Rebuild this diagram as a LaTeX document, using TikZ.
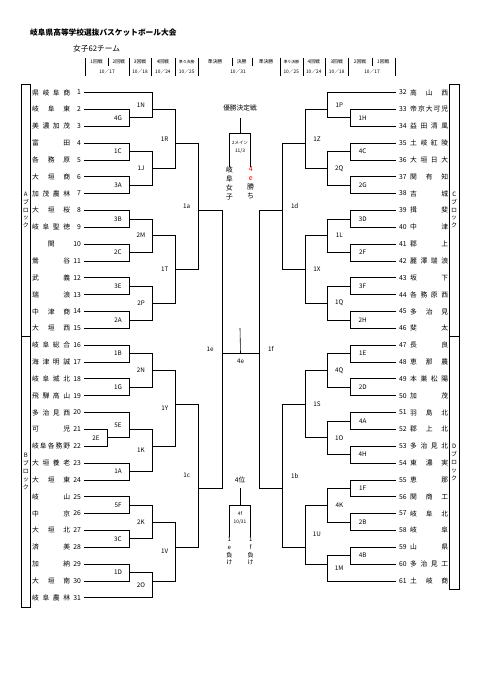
\documentclass[tikz,border=0pt]{standalone}
\usepackage{fontspec}
\setmainfont{Noto Sans CJK JP}
\usetikzlibrary{positioning, calc}

% row r of the sheet -> y in px
\newcommand\R[1]{92.5+8.42*(#1)}
% school name spread over the cell
\def\spreadloop#1{\ifx#1\relax\else#1\expandafter\spreadnext\fi}
\def\spreadnext#1{\ifx#1\relax\else\hfill#1\expandafter\spreadnext\fi}
\newcommand\spread[1]{\makebox[38pt][s]{\expandafter\spreadloop#1\relax}}

\tikzset{
  bline/.style={line width=0.6pt},
  mlabel/.style={inner sep=0pt, font=\fontsize{6.3}{7}\selectfont},
  tnum/.style={inner sep=0pt, font=\fontsize{6.8}{7}\selectfont},
  tname/.style={inner sep=0pt, anchor=west, font=\fontsize{6.8}{7}\selectfont},
  hdr/.style={inner sep=0pt, font=\fontsize{4.8}{5}\selectfont},
  blockbox/.style={draw, line width=0.6pt, minimum width=9.7pt, inner sep=0pt,
                   align=center, font=\fontsize{6}{7.8}\selectfont},
  vtext/.style={inner sep=0pt, align=center, anchor=north},
}

% game: name, x, upper, lower, row out, label shift
\newcommand\game[6]{%
  \coordinate (m#1) at (#2,{\R{#5}});
  \draw[bline] (#3) -- (#3 -| m#1) -- (#4 -| m#1) -- (#4);
  \path (#3 -| m#1) -- (#4 -| m#1) node[midway, xshift=#6pt, mlabel] (l#1) {#1};
}

\begin{document}
\begin{tikzpicture}[x=1pt, y=-1pt]
  \useasboundingbox (0,0) rectangle (481,680);

  % heading
  \node[anchor=west, inner sep=0pt, font=\bfseries\fontsize{7.7}{8}\selectfont] (title) at (30,33)
    {岐阜県高等学校選抜バスケットボール大会};
  \node[anchor=west, inner sep=0pt, font=\fontsize{7.7}{8}\selectfont] (subtitle) at (73,48.3)
    {女子62チーム};

  \foreach \x in {84.7,129.3,150.7,175,198.3,280,302.7,325,348.3,395}
    \draw[line width=0.4pt] (\x,58) -- (\x,76);
  \foreach \x in {108.3,231.7,251.7,371.7}
    \draw[line width=0.4pt] (\x,58) -- (\x,66);
  \foreach \x/\t [count=\k] in {96.5/1回戦, 118.8/2回戦, 140/3回戦, 162.9/4回戦, 215/準決勝,
      241.7/決勝, 266/準決勝, 313.8/4回戦, 336.7/3回戦, 360/2回戦, 383.3/1回戦}
    \node[hdr] (rd\k) at (\x,62) {\t};
  \node[hdr, font=\fontsize{3.9}{4}\selectfont] (qfL) at (186.7,62) {準々決勝};
  \node[hdr, font=\fontsize{3.9}{4}\selectfont] (qfR) at (291.3,62) {準々決勝};
  \foreach \x/\t [count=\k] in {107/10／17, 140/10／18, 162.9/10／24, 186.7/10／25, 238/10／31,
      291.3/10／25, 313.8/10／24, 336.7/10／18, 372/10／17}
    \node[hdr] (dt\k) at (\x,71.7) {\t};

  % blocks
  \node[blockbox, minimum height=252pt] (blkA) at (25.8,210) {A\\ブ\\ロ\\ッ\\ク};
  \node[blockbox, minimum height=271pt] (blkB) at (25.8,471.5) {B\\ブ\\ロ\\ッ\\ク};
  \node[blockbox, minimum height=252pt] (blkC) at (454.2,210) {C\\ブ\\ロ\\ッ\\ク};
  \node[blockbox, minimum height=253pt] (blkD) at (454.2,462.5) {D\\ブ\\ロ\\ッ\\ク};

  % left teams
  \foreach \i/\nm in {1/県岐阜商, 2/岐阜東, 3/美濃加茂, 4/富田, 5/各務原, 6/大垣商, 7/加茂農林,
      8/大垣桜, 9/岐阜聖徳, 10/\hfill 関\hfill, 11/鶯谷, 12/武義, 13/瑞浪, 14/中津商, 15/大垣西,
      16/岐阜総合, 17/海津明誠, 18/岐阜城北, 19/飛騨高山, 20/多治見西, 21/可児, 22/岐阜各務野,
      23/大垣養老, 24/大垣東, 25/岐山, 26/中京, 27/大垣北, 28/済美, 29/加納, 30/大垣南, 31/岐阜農林}{
    \node[tnum, anchor=east] (n\i) at (81,{\R{2*(\i-1)}}) {\i};
    \node[tname] (t\i) at (32,{\R{2*(\i-1)}}) {\spread{\nm}};
    \coordinate (e\i) at (84,{\R{2*(\i-1)}});
  }

  % right teams
  \foreach \i/\nm in {32/高山西, 33/帝京大可児, 34/益田清風, 35/土岐紅陵, 36/大垣日大, 37/関有知,
      38/吉城, 39/揖斐, 40/中津, 41/郡上, 42/麗澤瑞浪, 43/坂下, 44/各務原西, 45/多治見, 46/斐太,
      47/長良, 48/恵那農, 49/本巣松陽, 50/加茂, 51/羽島北, 52/郡上北, 53/多治見北, 54/東濃実,
      55/恵那, 56/関商工, 57/岐阜北, 58/岐阜, 59/山県, 60/多治見工, 61/土岐商}{
    \node[tnum, anchor=west] (n\i) at (399,{\R{2*(\i-32)}}) {\i};
    \node[tname] (t\i) at (410,{\R{2*(\i-32)}}) {\spread{\nm}};
    \coordinate (e\i) at (396,{\R{2*(\i-32)}});
  }

  % left games
  \game{4G}{129}{e2}{e3}{3}{-11}
  \game{1C}{129}{e4}{e5}{7}{-11}
  \game{3A}{129}{e6}{e7}{11}{-11}
  \game{3B}{129}{e8}{e9}{15}{-11}
  \game{2C}{129}{e10}{e11}{19}{-11}
  \game{3E}{129}{e12}{e13}{23}{-11}
  \game{2A}{129}{e14}{e15}{27}{-11}
  \game{1B}{129}{e16}{e17}{31}{-11}
  \game{1G}{129}{e18}{e19}{35}{-11}
  \game{2E}{107}{e21}{e22}{41}{-11}
  \game{5E}{129}{e20}{m2E}{40}{-11}
  \game{1A}{129}{e23}{e24}{45}{-11}
  \game{5F}{129}{e25}{e26}{49}{-11}
  \game{3C}{129}{e27}{e28}{53}{-11}
  \game{1D}{129}{e29}{e30}{57}{-11}
  \game{1N}{152}{e1}{m4G}{2}{-11}
  \game{1J}{152}{m1C}{m3A}{9}{-11}
  \game{2M}{152}{m3B}{m2C}{17}{-11}
  \game{2P}{152}{m3E}{m2A}{25}{-11}
  \game{2N}{152}{m1B}{m1G}{33}{-11}
  \game{1K}{152}{m5E}{m1A}{42}{-11}
  \game{2K}{152}{m5F}{m3C}{51}{-11}
  \game{2O}{152}{m1D}{e31}{58}{-11}
  \game{1R}{175.7}{m1N}{m1J}{6}{-11}
  \game{1T}{175.7}{m2M}{m2P}{21}{-11}
  \game{1Y}{175.7}{m2N}{m1K}{37}{-11}
  \game{1V}{175.7}{m2K}{m2O}{54}{-11}
  \game{1a}{198.7}{m1R}{m1T}{14}{-12}
  \game{1c}{198.7}{m1Y}{m1V}{47}{-12}
  \game{1e}{222}{m1a}{m1c}{31}{-12}

  % right games
  \game{1H}{350.7}{e33}{e34}{3}{12}
  \game{4C}{350.7}{e35}{e36}{7}{12}
  \game{2G}{350.7}{e37}{e38}{11}{12}
  \game{3D}{350.7}{e39}{e40}{15}{12}
  \game{2F}{350.7}{e41}{e42}{19}{12}
  \game{3F}{350.7}{e43}{e44}{23}{12}
  \game{2H}{350.7}{e45}{e46}{27}{12}
  \game{1E}{350.7}{e47}{e48}{31}{12}
  \game{2D}{350.7}{e49}{e50}{35}{12}
  \game{4A}{350.7}{e51}{e52}{39}{12}
  \game{4H}{350.7}{e53}{e54}{43}{12}
  \game{1F}{350.7}{e55}{e56}{47}{12}
  \game{2B}{350.7}{e57}{e58}{51}{12}
  \game{4B}{350.7}{e59}{e60}{55}{12}
  \game{1P}{327.3}{e32}{m1H}{2}{12}
  \game{2Q}{327.3}{m4C}{m2G}{9}{12}
  \game{1L}{327.3}{m3D}{m2F}{17}{12}
  \game{1Q}{327.3}{m3F}{m2H}{25}{12}
  \game{4Q}{327.3}{m1E}{m2D}{33}{12}
  \game{1O}{327.3}{m4A}{m4H}{41}{12}
  \game{4K}{327.3}{m1F}{m2B}{49}{12}
  \game{1M}{327.3}{m4B}{e61}{56}{12}
  \game{1Z}{305}{m1P}{m2Q}{6}{12}
  \game{1X}{305}{m1L}{m1Q}{21}{12}
  \game{1S}{305}{m4Q}{m1O}{37}{12}
  \game{1U}{305}{m4K}{m1M}{54}{12}
  \game{1d}{282.7}{m1Z}{m1X}{14}{12}
  \game{1b}{282.7}{m1S}{m1U}{47}{12}
  \game{1f}{259}{m1d}{m1b}{31}{12}

  % centre
  \draw[bline] (m1e) -- (m1f) coordinate[pos=0.5] (m4e);
  \coordinate (top4e) at (240,328);
  \draw[bline] (m4e) -- (top4e);
  \node[mlabel, below=5pt of m4e] (l4e) {4e};

  % final
  \node[inner sep=0pt, font=\fontsize{6.7}{7}\selectfont] (fin) at (240,108.3) {優勝決定戦};
  \coordinate (finTop) at (240,133.3);
  \draw[bline] ([yshift=-6.5pt]fin.south) -- (finTop);
  \node[hdr, font=\fontsize{4.4}{5}\selectfont] (finDay) at (240,142.7) {2メイン};
  \node[hdr] (finDate) at (240,150.7) {11/3};
  \node[vtext, font=\fontsize{7}{8.9}\selectfont] (finA) at (229.3,166.8) {岐\\阜\\女\\子};
  \node[vtext, font=\fontsize{7}{8.9}\selectfont] (finB) at (250.7,166.8)
    {\textcolor{red}{4}\\\textcolor{red}{e}\\勝\\ち};
  \draw[bline] (finA.north) -- (finA.north |- finTop) -- (finB |- finTop) -- (finB |- finA.north);

  % third place
  \node[inner sep=0pt, font=\fontsize{6.7}{7}\selectfont] (third) at (240,480) {4位};
  \coordinate (thirdTop) at (240,505);
  \draw[bline] ([yshift=-5pt]third.south) -- (thirdTop);
  \node[hdr] (thirdDay) at (240,513.3) {4f};
  \node[hdr] (thirdDate) at (240,521.7) {10/31};
  \node[vtext, font=\fontsize{6}{7.8}\selectfont] (thirdA) at (229.3,537) {1\\e\\負\\け};
  \node[vtext, font=\fontsize{6}{7.8}\selectfont] (thirdB) at (250.7,537) {1\\f\\負\\け};
  \draw[bline] (thirdA.north) -- (thirdA.north |- thirdTop) -- (thirdB |- thirdTop) -- (thirdB |- thirdA.north);
\end{tikzpicture}
\end{document}
